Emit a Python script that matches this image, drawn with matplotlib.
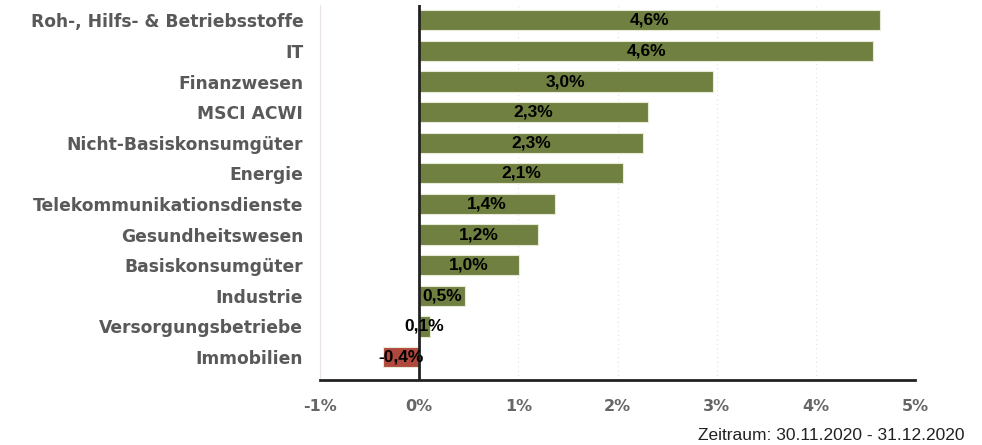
import numpy as np
import matplotlib
matplotlib.use("Agg")
import matplotlib.pyplot as plt

# Sektor-Performance MSCI ACWI, Dezember 2020
sectors = ["Roh-, Hilfs- & Betriebsstoffe", "IT", "Finanzwesen", "MSCI ACWI",
           "Nicht-Basiskonsumgüter", "Energie", "Telekommunikationsdienste",
           "Gesundheitswesen", "Basiskonsumgüter", "Industrie",
           "Versorgungsbetriebe", "Immobilien"]
values = [4.65, 4.58, 2.96, 2.31, 2.26, 2.06, 1.37, 1.20, 1.01, 0.46, 0.11, -0.36]
labels = ["4,6%", "4,6%", "3,0%", "2,3%", "2,3%", "2,1%", "1,4%", "1,2%",
          "1,0%", "0,5%", "0,1%", "-0,4%"]
xticks = [-1, 0, 1, 2, 3, 4, 5]
xticklabels = ["-1%", "0%", "1%", "2%", "3%", "4%", "5%"]
footer = "Zeitraum: 30.11.2020 - 31.12.2020"

green = "#708040"
red = "#b0483c"
grey = "#595959"
lib = ["Liberation Sans", "DejaVu Sans"]

fig = plt.figure(figsize=(9.82, 4.45), dpi=100)
ax = fig.add_axes([320/982, 65/445, 595/982, 375/445])

y = np.arange(len(sectors))
colors = [green if v >= 0 else red for v in values]
ax.barh(y, values, height=0.66, color=colors, edgecolor="#e8ead8", linewidth=0.8, zorder=2)

for yi, v, lab in zip(y, values, labels):
    ax.text(v / 2, yi, lab, ha="center", va="center", fontsize=12.5,
            fontweight="bold", family=lib, color="black", zorder=4)

ax.set_xlim(-1, 5)
ax.set_ylim(11.75, -0.5)
ax.axvline(0, color="#222222", lw=2, zorder=3)

ax.set_yticks(y)
ax.set_yticklabels(sectors, fontsize=12.3, fontweight="bold", color=grey,
                   family="DejaVu Sans")
ax.set_xticks(xticks)
ax.set_xticklabels(xticklabels, fontsize=11.5, fontweight="bold", color="#666666",
                   family="DejaVu Sans")
ax.tick_params(axis="both", length=0)
ax.tick_params(axis="x", pad=14)
ax.tick_params(axis="y", pad=12)

ax.grid(axis="x", color="#e6e0e0", lw=0.8, ls=(0, (1, 3)), zorder=0)
for s in ["top", "right"]:
    ax.spines[s].set_visible(False)
ax.spines["left"].set_color("#ebe4e4")
ax.spines["left"].set_linewidth(0.8)
ax.spines["bottom"].set_color("#222222")
ax.spines["bottom"].set_linewidth(2)

fig.text(965/982, 1 - 436/445, footer, ha="right", va="center", fontsize=12.5,
         family=lib, color="#222222")

fig.savefig("out.png", dpi=100)
